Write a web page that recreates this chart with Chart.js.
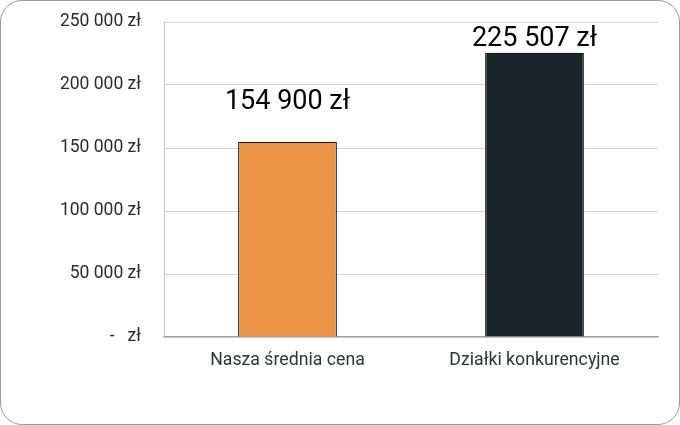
<!DOCTYPE html>
<html><head><meta charset="utf-8">
<script src="https://cdn.jsdelivr.net/npm/chart.js@4"></script>
<style>
html,body{margin:0;padding:0;background:#fff;}
#wrap{position:relative;width:680px;height:425px;}
#frame{position:absolute;left:0;top:0;width:680px;height:425px;box-sizing:border-box;border:1.5px solid #9a9a9a;border-radius:22px;pointer-events:none;}
canvas{position:absolute;left:0;top:0;}
</style></head>
<body>
<div id="wrap"><canvas id="c" width="680" height="425"></canvas><div id="frame"></div></div>
<script>
const categories = ['Nasza średnia cena', 'Działki konkurencyjne'];
const values = [154900, 225507];
const barColors = ['#EC9446', '#1A262C'];
const yTicks = [0, 50000, 100000, 150000, 200000, 250000];
const labelLift = [33, 7];

function fmt(v){
  if (v === 0) return '-   zł';
  return String(Math.round(v)).replace(/\B(?=(\d{3})+(?!\d))/g, ' ') + ' zł';
}

const valueLabels = {
  id: 'valueLabels',
  afterDatasetsDraw(chart){
    const ctx = chart.ctx;
    const meta = chart.getDatasetMeta(0);
    ctx.save();
    ctx.font = '27px Roboto';
    ctx.fillStyle = '#000';
    ctx.textAlign = 'center';
    ctx.textBaseline = 'alphabetic';
    meta.data.forEach((bar, i) => {
      ctx.fillText(fmt(values[i]), bar.x, bar.y - labelLift[i]);
    });
    ctx.restore();
  }
};

new Chart(document.getElementById('c'), {
  type: 'bar',
  data: {
    labels: categories,
    datasets: [{
      data: values,
      backgroundColor: barColors,
      borderColor: '#1a1a1a',
      borderWidth: 1.2,
      barPercentage: 0.4,
      categoryPercentage: 1.0
    }]
  },
  options: {
    responsive: false,
    animation: false,
    devicePixelRatio: 1,
    layout: { padding: { top: 22, right: 22, left: 0, bottom: 0 } },
    plugins: { legend: { display: false }, tooltip: { enabled: false } },
    scales: {
      x: {
        grid: { display: false, drawTicks: false },
        border: { display: true, color: '#a0a0a0', width: 1.2 },
        ticks: { font: { family: 'Roboto', size: 17.7 }, color: '#2d3539', padding: 13 },
        afterFit(s){ s.height = 88; s.paddingLeft = 0; s.paddingRight = 0; }
      },
      y: {
        min: 0, max: 250000,
        afterBuildTicks(s){ s.ticks = yTicks.map(v => ({ value: v })); },
        grid: { color: '#d4d4d4', lineWidth: 1, drawTicks: false },
        border: { display: true, color: '#c8c8c8', width: 1 },
        ticks: { font: { family: 'Roboto', size: 17.5 }, color: '#2b2b2b', padding: 23, callback: v => fmt(v) },
        afterFit(s){ s.width = 164; s.paddingTop = 0; s.paddingBottom = 0; }
      }
    }
  },
  plugins: [valueLabels]
});
</script>
</body></html>
